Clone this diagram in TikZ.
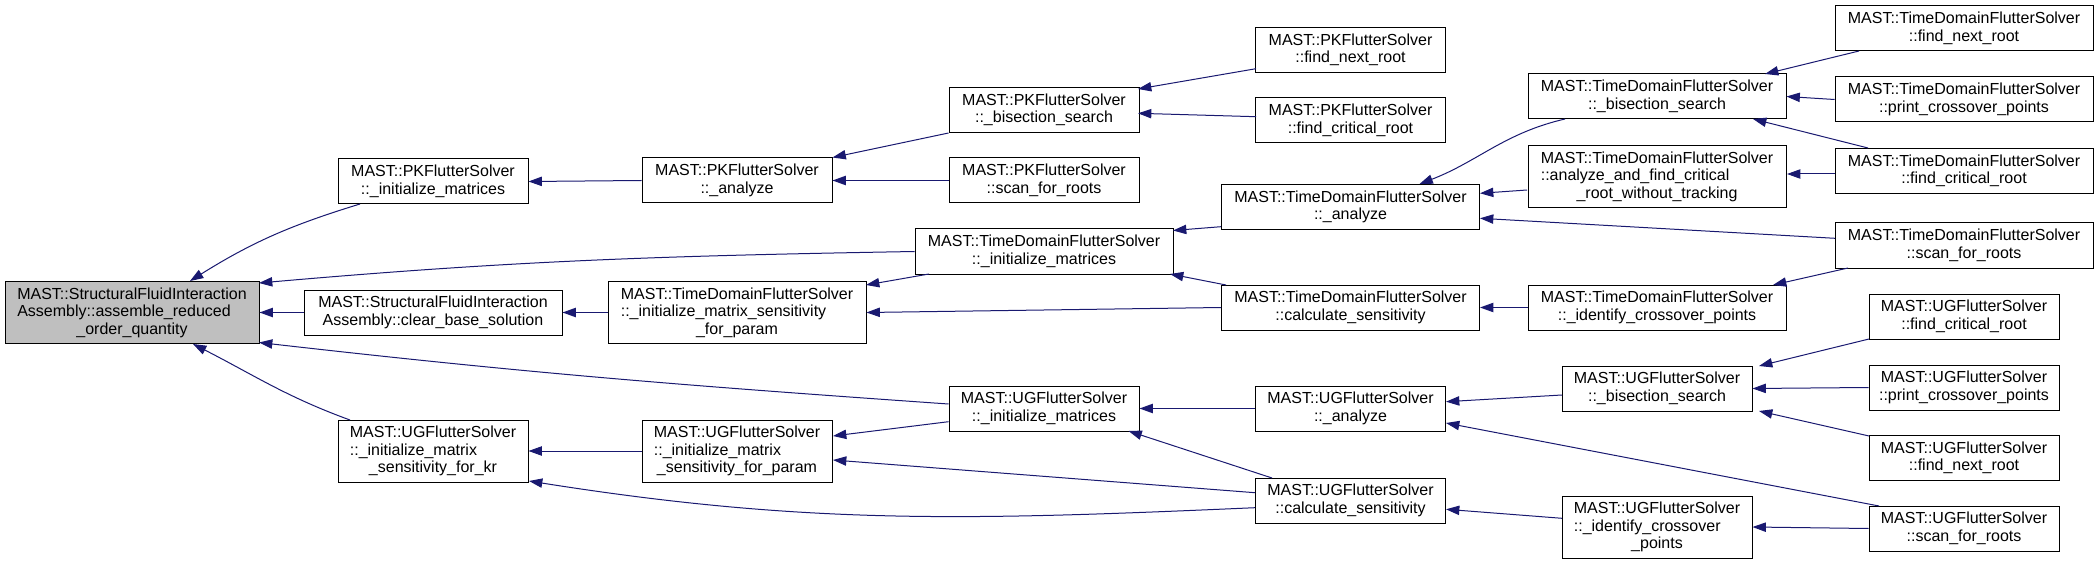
\documentclass[tikz,border=0pt]{standalone}
\usepackage{fontspec}
\setmainfont{Liberation Sans}
\usetikzlibrary{arrows.meta,calc}

\definecolor{edgeblue}{HTML}{191970}
\definecolor{rootgray}{HTML}{BFBFBF}
% a line set flush left under the (wider) first line
\newcommand{\lline}[2]{\rlap{#2}\hphantom{#1}}

\begin{document}
\begin{tikzpicture}[x=0.75pt, y=0.75pt,
  fn/.style={draw=black, line width=0.75pt, fill=white, inner sep=0pt, align=center,
    font=\fontsize{12}{13.1}\selectfont, minimum height=33.75pt},
  narrow/.style={fn, minimum width=142.5pt},
  wide/.style={fn, minimum width=193.5pt},
  tall/.style={minimum height=46.5pt},
  calls/.style={draw=edgeblue, line width=0.75pt, {Triangle[length=10pt,width=7pt]}-}]

\useasboundingbox (0,0) rectangle (2099,565);

% column 1
\node[fn, fill=rootgray, minimum width=190.5pt, tall] (root) at (132,252.5)
  {MAST::StructuralFluidInteraction\\\lline{MAST::StructuralFluidInteraction}{Assembly::assemble\_reduced}\\\_order\_quantity};

% column 2
\node[narrow] (pkinit) at (433,383.5) {MAST::PKFlutterSolver\\::\_initialize\_matrices};
\node[wide] (clear) at (433,252.5) {MAST::StructuralFluidInteraction\\Assembly::clear\_base\_solution};
\node[narrow, tall] (ugkr) at (433,114)
  {MAST::UGFlutterSolver\\\lline{MAST::UGFlutterSolver}{::\_initialize\_matrix}\\\_sensitivity\_for\_kr};

% column 3
\node[narrow] (pkanalyze) at (737,384.5) {MAST::PKFlutterSolver\\::\_analyze};
\node[wide, tall] (tdsensparam) at (737,252.5)
  {MAST::TimeDomainFlutterSolver\\\lline{MAST::TimeDomainFlutterSolver}{::\_initialize\_matrix\_sensitivity}\\\_for\_param};
\node[narrow, tall] (ugsensparam) at (737,114)
  {MAST::UGFlutterSolver\\\lline{MAST::UGFlutterSolver}{::\_initialize\_matrix}\\\_sensitivity\_for\_param};

% column 4
\node[narrow] (pkbisect) at (1044,455) {MAST::PKFlutterSolver\\::\_bisection\_search};
\node[narrow] (pkscan) at (1044,384.5) {MAST::PKFlutterSolver\\::scan\_for\_roots};
\node[wide] (tdinit) at (1044,313.5) {MAST::TimeDomainFlutterSolver\\::\_initialize\_matrices};
\node[narrow] (uginit) at (1044,156.5) {MAST::UGFlutterSolver\\::\_initialize\_matrices};

% column 5
\node[narrow] (pknext) at (1350.5,515) {MAST::PKFlutterSolver\\::find\_next\_root};
\node[narrow] (pkcrit) at (1350.5,444.5) {MAST::PKFlutterSolver\\::find\_critical\_root};
\node[wide] (tdanalyze) at (1350.5,358) {MAST::TimeDomainFlutterSolver\\::\_analyze};
\node[wide] (tdcalc) at (1350.5,257.5) {MAST::TimeDomainFlutterSolver\\::calculate\_sensitivity};
\node[narrow] (uganalyze) at (1350.5,156.5) {MAST::UGFlutterSolver\\::\_analyze};
\node[narrow] (ugcalc) at (1350.5,64.5) {MAST::UGFlutterSolver\\::calculate\_sensitivity};

% column 6
\node[wide] (tdbisect) at (1657,468.5) {MAST::TimeDomainFlutterSolver\\::\_bisection\_search};
\node[wide, tall] (tdafc) at (1657,388.5)
  {MAST::TimeDomainFlutterSolver\\\lline{MAST::TimeDomainFlutterSolver}{::analyze\_and\_find\_critical}\\\_root\_without\_tracking};
\node[wide] (tdident) at (1657,257.5) {MAST::TimeDomainFlutterSolver\\::\_identify\_crossover\_points};
\node[narrow] (ugbisect) at (1657,176.5) {MAST::UGFlutterSolver\\::\_bisection\_search};
\node[narrow, tall] (ugident) at (1657,38)
  {MAST::UGFlutterSolver\\\lline{MAST::UGFlutterSolver}{::\_identify\_crossover}\\\_points};

% column 7
\node[wide] (tdnext) at (1964,536.5) {MAST::TimeDomainFlutterSolver\\::find\_next\_root};
\node[wide] (tdprint) at (1964,465.5) {MAST::TimeDomainFlutterSolver\\::print\_crossover\_points};
\node[wide] (tdcrit) at (1964,394) {MAST::TimeDomainFlutterSolver\\::find\_critical\_root};
\node[wide] (tdscan) at (1964,319.5) {MAST::TimeDomainFlutterSolver\\::scan\_for\_roots};
\node[narrow] (ugcrit) at (1964,248.5) {MAST::UGFlutterSolver\\::find\_critical\_root};
\node[narrow] (ugprint) at (1964,177.5) {MAST::UGFlutterSolver\\::print\_crossover\_points};
\node[narrow] (ugnext) at (1964,107) {MAST::UGFlutterSolver\\::find\_next\_root};
\node[narrow] (ugscan) at (1964,36.5) {MAST::UGFlutterSolver\\::scan\_for\_roots};

% callers of root
\draw[calls] ($(root)+(58,31.5)$) to[out=32,in=197] ($(pkinit)+(-73,-22.5)$);
\draw[calls] ($(root)+(127,29.5)$) to[out=5,in=181] (tdinit.west);
\draw[calls] (root.east) -- (clear.west);
\draw[calls] ($(root)+(127,-30)$) to[out=-6.5,in=176] ($(uginit)+(-95.5,4.5)$);
\draw[calls] ($(root)+(61,-31.5)$) to[out=-27,in=160] ($(ugkr)+(-83,31)$);

\draw[calls] (pkinit.east) -- (pkanalyze.west);
\draw[calls] (clear.east) -- (tdsensparam.west);
\draw[calls] (ugkr.east) -- (ugsensparam.west);
\draw[calls] ($(ugkr)+(96,-30)$) to[out=-9,in=182.5] ($(ugcalc)+(-95.5,-7.2)$);

\draw[calls] (pkanalyze.north east) -- (pkbisect.south west);
\draw[calls] (pkanalyze.east) -- (pkscan.west);
\draw[calls] ($(tdsensparam)+(129,27.5)$) -- ($(tdinit)+(-115,-22.5)$);
\draw[calls] (tdsensparam.east) -- (tdcalc.west);
\draw[calls] ($(ugsensparam)+(96,15)$) -- ($(uginit)+(-95.5,-13.2)$);
\draw[calls] ($(ugsensparam)+(96,-9)$) -- ($(ugcalc)+(-95.5,7.8)$);

\draw[calls] ($(pkbisect)+(94,21)$) -- ($(pknext)+(-94.5,-18.7)$);
\draw[calls] ($(pkbisect)+(94,-3.3)$) -- ($(pkcrit)+(-94.5,3.8)$);
\draw[calls] ($(tdinit)+(129,21)$) -- ($(tdanalyze)+(-129.5,-19.7)$);
\draw[calls] ($(tdinit)+(126,-22.5)$) -- ($(tdcalc)+(-124.5,22.5)$);
\draw[calls] (uginit.east) -- (uganalyze.west);
\draw[calls] ($(uginit)+(84.5,-22.5)$) -- ($(ugcalc)+(-78.5,22.5)$);

\draw[calls] ($(tdanalyze)+(69,23)$) to[out=21,in=193] ($(tdbisect)+(-92,-22.5)$);
\draw[calls] ($(tdanalyze)+(129.5,13.7)$) -- ($(tdafc)+(-130,-13.5)$);
\draw[calls] ($(tdanalyze)+(129.5,-11.3)$) -- ($(tdscan)+(-129,7.2)$);
\draw[calls] (tdcalc.east) -- (tdident.west);
\draw[calls] ($(uganalyze)+(95.5,6.8)$) -- ($(ugbisect)+(-95,-6.5)$);
\draw[calls] ($(uganalyze)+(95.5,-14.5)$) -- ($(ugscan)+(-85,22.5)$);
\draw[calls] ($(ugcalc)+(95.5,-8.8)$) -- ($(ugident)+(-95,8.7)$);

\draw[calls] ($(tdbisect)+(108,22.5)$) -- ($(tdnext)+(-105,-22.5)$);
\draw[calls] (tdbisect.east) -- (tdprint.west);
\draw[calls] ($(tdbisect)+(96,-22.5)$) -- ($(tdcrit)+(-96,23)$);
\draw[calls] ($(tdafc)+(130,2.5)$) -- ($(tdcrit)+(-129,-3)$);
\draw[calls] ($(tdident)+(116,22.5)$) -- ($(tdscan)+(-116,-22.5)$);
\draw[calls] ($(ugbisect)+(102,22.5)$) -- ($(ugcrit)+(-95,-22.5)$);
\draw[calls] (ugbisect.east) -- (ugprint.west);
\draw[calls] ($(ugbisect)+(102,-22.5)$) -- ($(ugnext)+(-95,22)$);
\draw[calls] (ugident.east) -- (ugscan.west);

\end{tikzpicture}
\end{document}
